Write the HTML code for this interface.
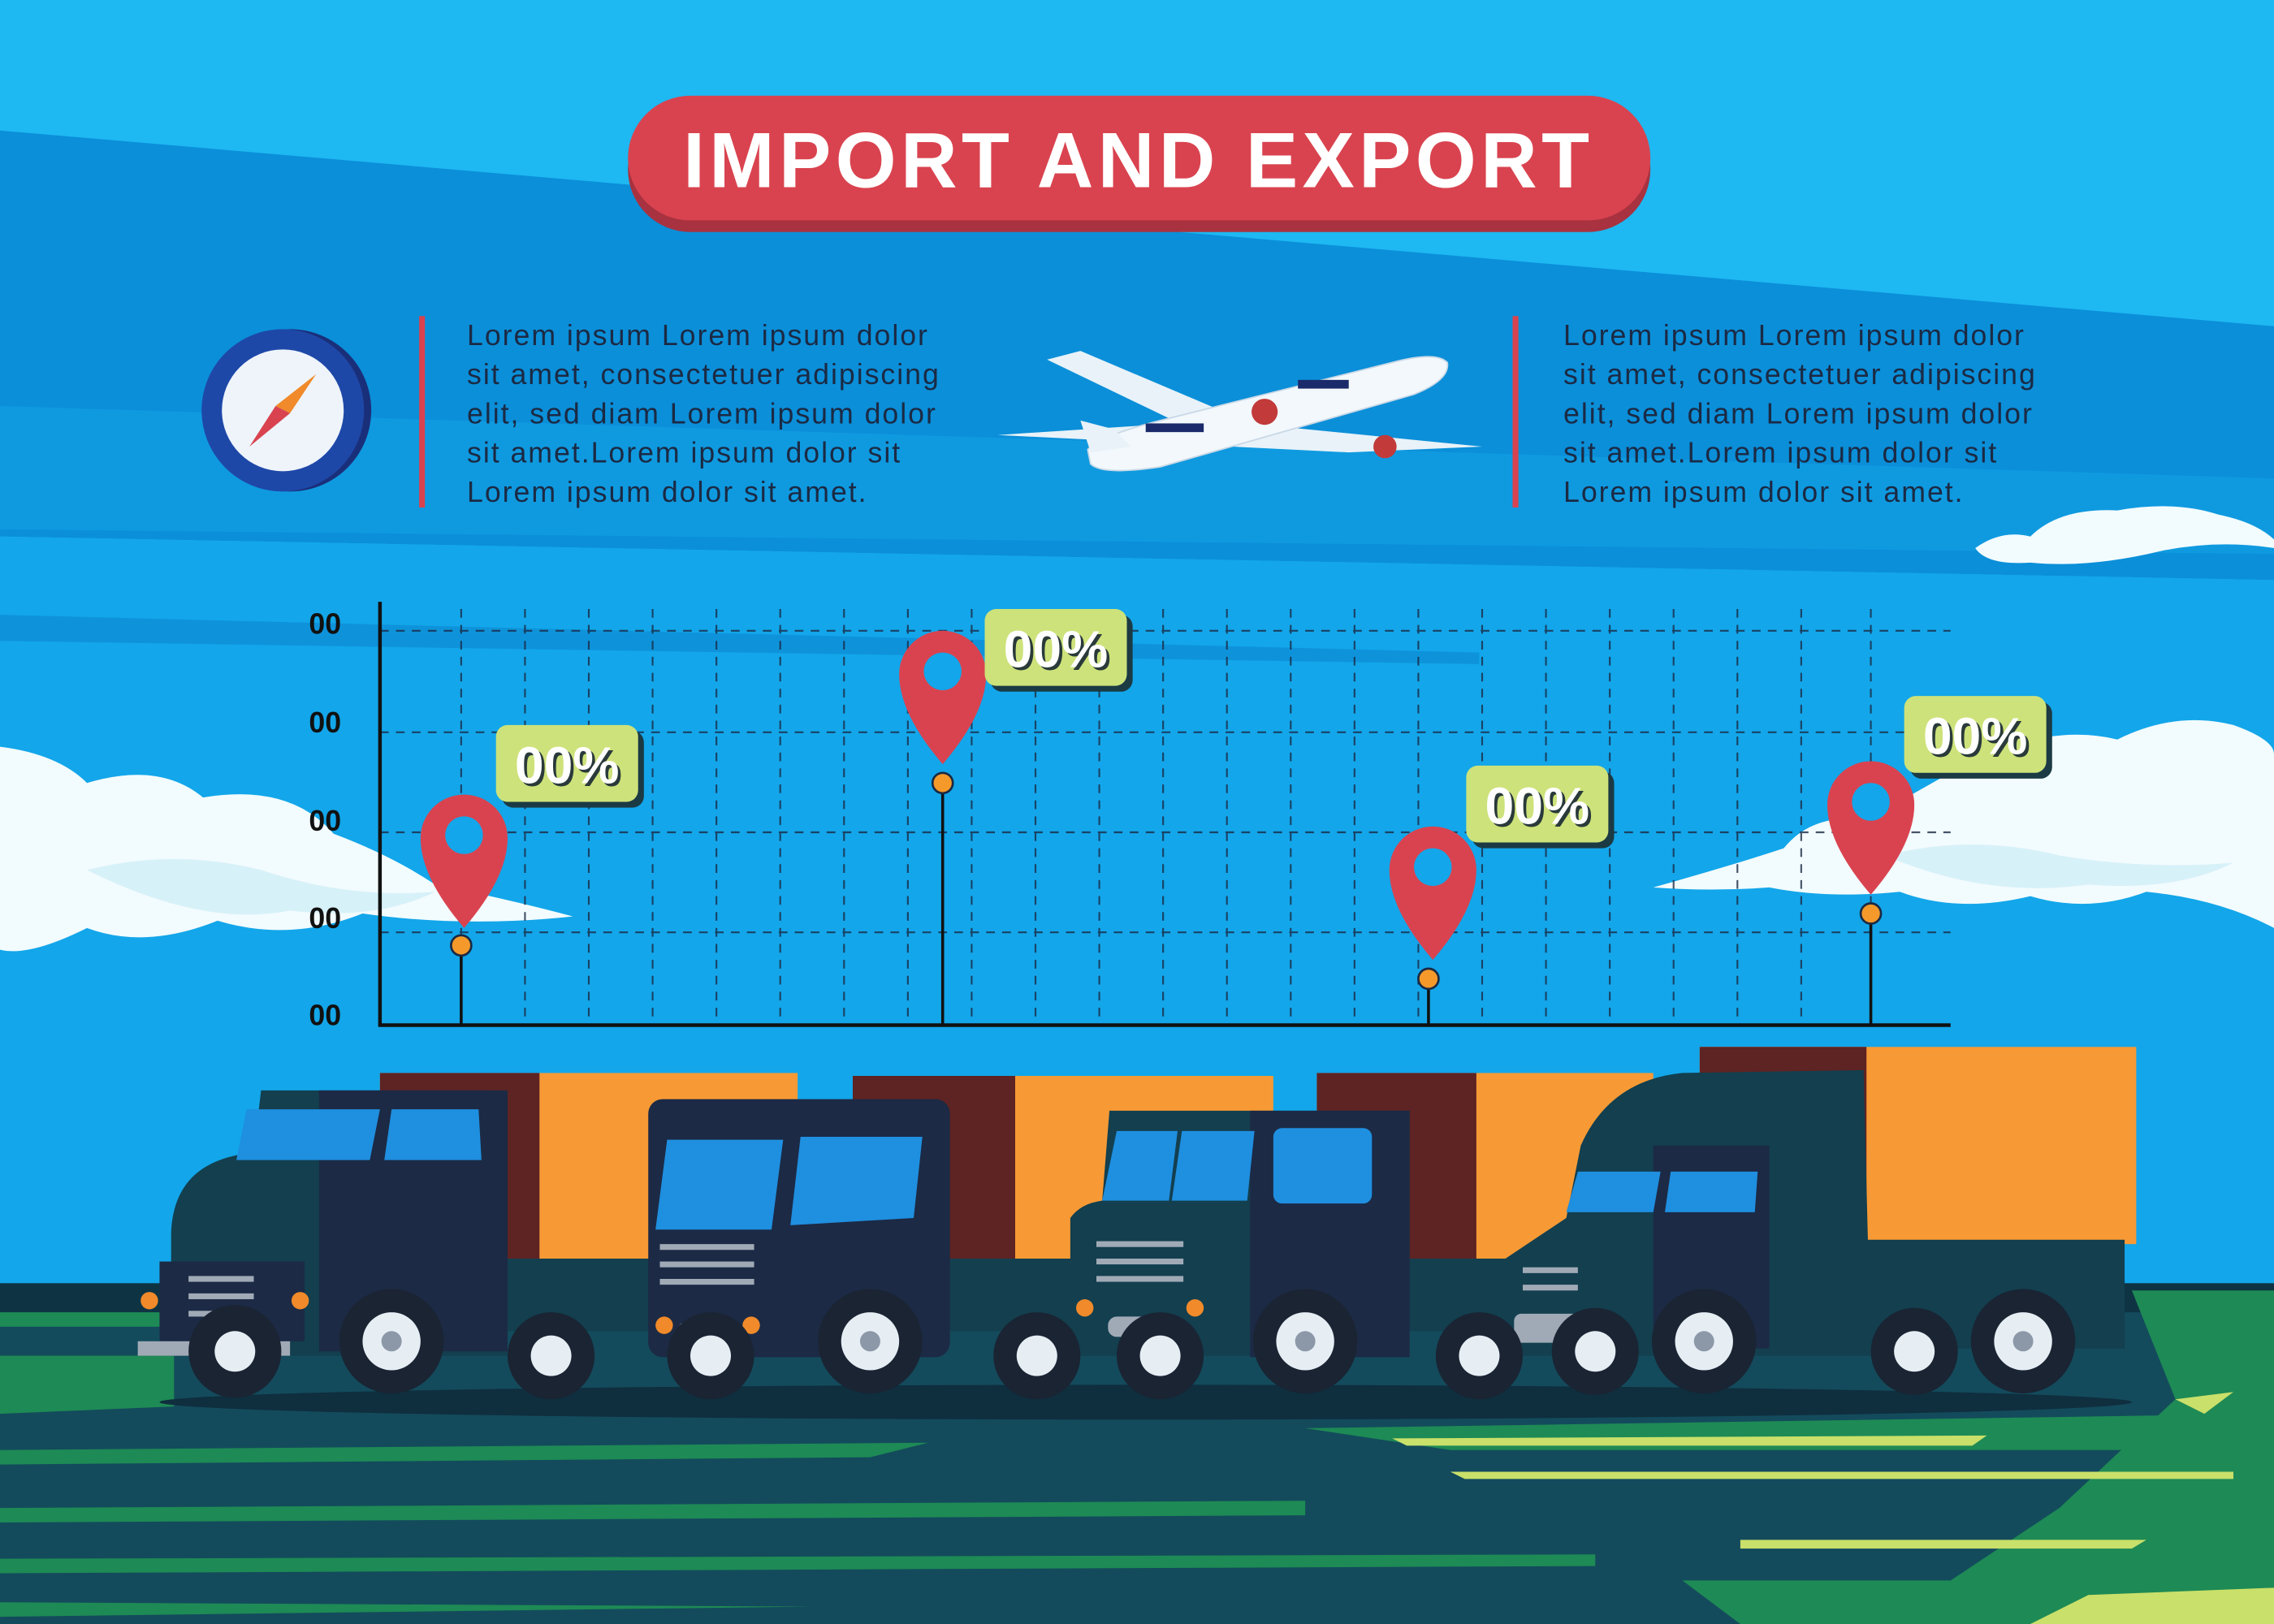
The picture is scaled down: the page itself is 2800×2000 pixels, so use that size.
<!DOCTYPE html>
<html><head><meta charset="utf-8"><style>
html,body{margin:0;padding:0;width:2800px;height:2000px;overflow:hidden;background:#1EB8F2}
svg{display:block}
</style></head><body>
<svg width="2800" height="2000" viewBox="0 0 1568 1120" preserveAspectRatio="none" xmlns="http://www.w3.org/2000/svg">
<rect width="1568" height="1120" fill="#1EB8F2"/>
<polygon points="0,90 1568,225 1568,400 0,370" fill="#0B8FD9"/>
<polygon points="0,370 1568,400 1568,900 0,900" fill="#13A6EA"/>
<polygon points="0,280 1568,330 1568,382 0,365" fill="#0F9AE0"/>
<polygon points="0,424 1020,450 1020,458 0,442" fill="#0E93DB"/>
<g fill="#F2FBFD">
<path d="M0,515 Q40,520 60,540 Q110,525 140,550 Q200,540 230,575 Q270,590 300,610 Q350,620 395,632 Q320,640 250,630 Q200,650 150,635 Q100,655 60,640 Q20,660 0,655 Z"/>
<path d="M1140,612 Q1200,595 1230,585 Q1250,560 1290,565 Q1330,540 1370,520 Q1420,500 1460,510 Q1500,490 1540,500 Q1568,510 1568,520 L1568,640 Q1530,620 1480,615 Q1440,630 1400,618 Q1350,630 1310,615 Q1260,620 1220,612 Q1180,615 1140,612 Z"/>
<path d="M1362,378 Q1380,365 1400,370 Q1420,350 1460,352 Q1500,345 1530,355 Q1555,360 1568,372 L1568,378 Q1530,372 1490,380 Q1440,392 1400,388 Q1370,390 1362,378 Z"/>
</g>
<g fill="#CFEFF7" opacity="0.8">
<path d="M60,600 Q120,585 180,600 Q240,620 300,615 Q260,635 200,628 Q140,640 60,600 Z"/>
<path d="M1300,590 Q1360,575 1420,590 Q1480,600 1540,595 Q1500,615 1440,610 Q1370,620 1300,590 Z"/>
</g>
<rect x="433" y="74" width="705" height="86" rx="43" fill="#A8323F"/>
<rect x="433" y="66" width="705" height="86" rx="43" fill="#D9434F"/>
<text x="785" y="129" text-anchor="middle" font-family="Liberation Sans, sans-serif" font-weight="bold" font-size="54" letter-spacing="3" fill="#fff">IMPORT AND EXPORT</text>
<circle cx="200" cy="283" r="56" fill="#1A2F7A"/>
<circle cx="195" cy="283" r="56" fill="#1E48A8"/>
<circle cx="195" cy="283" r="42" fill="#EEF4FA"/>
<polygon points="218,258 200,285 190,280" fill="#F08A2A"/>
<polygon points="172,308 190,280 200,285" fill="#D9434F"/>
<rect x="289" y="218" width="4" height="132" fill="#D9434F"/>
<rect x="1043" y="218" width="4" height="132" fill="#D9434F"/>
<g font-family="Liberation Sans, sans-serif" font-size="20" letter-spacing="1.1" fill="#1B2A44">
<text x="322" y="238">Lorem ipsum Lorem ipsum dolor</text>
<text x="322" y="265">sit amet, consectetuer adipiscing</text>
<text x="322" y="292">elit, sed diam Lorem ipsum dolor</text>
<text x="322" y="319">sit amet.Lorem ipsum dolor sit</text>
<text x="322" y="346">Lorem ipsum dolor sit amet.</text>
<text x="1078" y="238">Lorem ipsum Lorem ipsum dolor</text>
<text x="1078" y="265">sit amet, consectetuer adipiscing</text>
<text x="1078" y="292">elit, sed diam Lorem ipsum dolor</text>
<text x="1078" y="319">sit amet.Lorem ipsum dolor sit</text>
<text x="1078" y="346">Lorem ipsum dolor sit amet.</text>
</g>
<g>
<polygon points="722,248 745,242 870,295 830,300" fill="#E8F2F8"/>
<polygon points="688,300 840,290 1022,308 930,312" fill="#E8F2F8"/>
<path d="M750,310 Q760,300 800,290 L960,250 Q990,242 998,250 Q1000,262 975,272 L800,322 Q760,328 752,320 Z" fill="#F2F8FC" stroke="#C9D8E6"/>
<polygon points="752,312 745,290 768,296 780,308" fill="#E8F2F8"/>
<circle cx="872" cy="284" r="9" fill="#C23A3A"/>
<circle cx="955" cy="308" r="8" fill="#C23A3A"/>
<rect x="790" y="292" width="40" height="6" fill="#1B2A6A"/>
<rect x="895" y="262" width="35" height="6" fill="#1B2A6A"/>
</g>
<g stroke="#1B2A44" stroke-width="1.2" stroke-dasharray="6,5" opacity="0.8">
<line x1="262" y1="435" x2="1345" y2="435"/>
<line x1="262" y1="505" x2="1345" y2="505"/>
<line x1="262" y1="574" x2="1345" y2="574"/>
<line x1="262" y1="643" x2="1345" y2="643"/>
<line x1="318" y1="420" x2="318" y2="707"/><line x1="362" y1="420" x2="362" y2="707"/>
<line x1="406" y1="420" x2="406" y2="707"/><line x1="450" y1="420" x2="450" y2="707"/>
<line x1="494" y1="420" x2="494" y2="707"/><line x1="538" y1="420" x2="538" y2="707"/>
<line x1="582" y1="420" x2="582" y2="707"/><line x1="626" y1="420" x2="626" y2="707"/>
<line x1="670" y1="420" x2="670" y2="707"/><line x1="714" y1="420" x2="714" y2="707"/>
<line x1="758" y1="420" x2="758" y2="707"/><line x1="802" y1="420" x2="802" y2="707"/>
<line x1="846" y1="420" x2="846" y2="707"/><line x1="890" y1="420" x2="890" y2="707"/>
<line x1="934" y1="420" x2="934" y2="707"/><line x1="978" y1="420" x2="978" y2="707"/>
<line x1="1022" y1="420" x2="1022" y2="707"/><line x1="1066" y1="420" x2="1066" y2="707"/>
<line x1="1110" y1="420" x2="1110" y2="707"/><line x1="1154" y1="420" x2="1154" y2="707"/>
<line x1="1198" y1="420" x2="1198" y2="707"/><line x1="1242" y1="420" x2="1242" y2="707"/>
<line x1="1290" y1="420" x2="1290" y2="707"/>
</g>
<line x1="262" y1="415" x2="262" y2="708" stroke="#111" stroke-width="2.5"/>
<line x1="261" y1="707" x2="1345" y2="707" stroke="#111" stroke-width="2.5"/>
<g font-family="Liberation Sans, sans-serif" font-weight="bold" font-size="20" fill="#111">
<text x="213" y="437">00</text><text x="213" y="505">00</text><text x="213" y="573">00</text><text x="213" y="640">00</text><text x="213" y="707">00</text>
</g>
<g>
<line x1="318" y1="652" x2="318" y2="707" stroke="#111" stroke-width="2"/>
<line x1="650" y1="540" x2="650" y2="707" stroke="#111" stroke-width="2"/>
<line x1="985" y1="675" x2="985" y2="707" stroke="#111" stroke-width="2"/>
<line x1="1290" y1="630" x2="1290" y2="707" stroke="#111" stroke-width="2"/>
<g fill="#F59A2A" stroke="#1B2A44" stroke-width="1.5">
<circle cx="318" cy="652" r="7"/><circle cx="650" cy="540" r="7"/><circle cx="985" cy="675" r="7"/><circle cx="1290" cy="630" r="7"/>
</g>
<g fill="#D9434F">
<path d="M320,640 Q290,605 290,578 A30,30 0 0 1 350,578 Q350,605 320,640 Z"/>
<path d="M650,527 Q620,492 620,465 A30,30 0 0 1 680,465 Q680,492 650,527 Z"/>
<path d="M988,662 Q958,627 958,600 A30,30 0 0 1 1018,600 Q1018,627 988,662 Z"/>
<path d="M1290,617 Q1260,582 1260,555 A30,30 0 0 1 1320,555 Q1320,582 1290,617 Z"/>
</g>
<g fill="#13A6EA"><circle cx="320" cy="576" r="13"/><circle cx="650" cy="463" r="13"/><circle cx="988" cy="598" r="13"/><circle cx="1290" cy="553" r="13"/></g>
<g fill="#1B3A44">
<rect x="346" y="504" width="98" height="53" rx="8"/><rect x="683" y="424" width="98" height="53" rx="8"/>
<rect x="1015" y="532" width="98" height="53" rx="8"/><rect x="1317" y="484" width="98" height="53" rx="8"/>
</g>
<g fill="#CDE27A">
<rect x="342" y="500" width="98" height="53" rx="8"/><rect x="679" y="420" width="98" height="53" rx="8"/>
<rect x="1011" y="528" width="98" height="53" rx="8"/><rect x="1313" y="480" width="98" height="53" rx="8"/>
</g>
<g font-family="Liberation Sans, sans-serif" font-weight="bold" font-size="36" text-anchor="middle" fill="#2A3A3A">
<text x="393" y="542">00%</text><text x="730" y="462">00%</text><text x="1062" y="570">00%</text><text x="1364" y="522">00%</text>
</g>
<g font-family="Liberation Sans, sans-serif" font-weight="bold" font-size="36" text-anchor="middle" fill="#fff">
<text x="391" y="540">00%</text><text x="728" y="460">00%</text><text x="1060" y="568">00%</text><text x="1362" y="520">00%</text>
</g>
</g>
<rect x="0" y="885" width="1568" height="235" fill="#134B5C"/>
<polygon points="0,885 1568,885 1568,905 0,905" fill="#0E3444"/>
<polygon points="0,905 300,905 300,915 0,915" fill="#1E8A55"/>
<polygon points="0,935 120,935 120,970 0,975" fill="#1E8A55"/>
<polygon points="1470,890 1568,890 1568,1120 1300,1120 1420,1040 1500,965" fill="#1E8A55"/>
<polygon points="900,985 1568,975 1568,1000 1000,1000" fill="#1E8A55"/>
<polygon points="960,992 1370,990 1360,997 970,997" fill="#C9E06A"/>
<polygon points="1000,1015 1540,1015 1540,1020 1010,1020" fill="#C9E06A"/>
<polygon points="1200,1062 1480,1062 1470,1068 1200,1068" fill="#C9E06A"/>
<polygon points="1160,1090 1568,1090 1568,1120 1200,1120" fill="#1E8A55"/>
<polygon points="1440,1100 1568,1095 1568,1120 1400,1120" fill="#C9E06A"/>
<polygon points="1500,965 1540,960 1520,975" fill="#C9E06A"/>
<polygon points="0,1000 640,995 600,1005 0,1010" fill="#1E8A55"/>
<polygon points="0,1040 900,1035 900,1045 0,1050" fill="#1E8A55"/>
<polygon points="0,1075 1100,1072 1100,1080 0,1085" fill="#1E8A55"/>
<polygon points="0,1105 560,1108 0,1115" fill="#1E8A55"/>
<ellipse cx="790" cy="967" rx="680" ry="12" fill="#0F2E3E"/>
<g>
<rect x="262" y="740" width="288" height="130" fill="#F79A35"/>
<rect x="262" y="740" width="110" height="130" fill="#5E2323"/>
<rect x="250" y="868" width="320" height="50" fill="#133F4F"/>
<path d="M118,935 L118,850 Q120,800 175,795 L180,752 L340,752 L350,935 Z" fill="#133F4F"/>
<rect x="220" y="752" width="130" height="180" fill="#1C2A45"/>
<polygon points="170,765 262,765 255,800 163,800" fill="#1F8FE0"/>
<polygon points="270,765 330,765 332,800 265,800" fill="#1F8FE0"/>
<rect x="110" y="870" width="100" height="55" fill="#1C2A45"/>
<rect x="95" y="925" width="105" height="10" fill="#A0AAB6"/>
<rect x="130" y="880" width="45" height="4" fill="#A0AAB6"/><rect x="130" y="892" width="45" height="4" fill="#A0AAB6"/><rect x="130" y="904" width="45" height="4" fill="#A0AAB6"/>
<circle cx="103" cy="897" r="6" fill="#F08A2A"/><circle cx="207" cy="897" r="6" fill="#F08A2A"/>
<rect x="588" y="742" width="290" height="128" fill="#F79A35"/>
<rect x="588" y="742" width="112" height="128" fill="#5E2323"/>
<rect x="640" y="868" width="120" height="50" fill="#133F4F"/>
<rect x="447" y="758" width="208" height="178" rx="10" fill="#1C2A45"/>
<polygon points="460,786 540,786 532,848 452,848" fill="#1F8FE0"/>
<polygon points="552,784 636,784 630,840 545,845" fill="#1F8FE0"/>
<rect x="455" y="858" width="65" height="4" fill="#A0AAB6"/><rect x="455" y="870" width="65" height="4" fill="#A0AAB6"/><rect x="455" y="882" width="65" height="4" fill="#A0AAB6"/>
<rect x="468" y="912" width="34" height="10" rx="4" fill="#A0AAB6"/>
<circle cx="458" cy="914" r="6" fill="#F08A2A"/><circle cx="518" cy="914" r="6" fill="#F08A2A"/>
<rect x="908" y="740" width="232" height="130" fill="#F79A35"/>
<rect x="908" y="740" width="110" height="130" fill="#5E2323"/>
<rect x="960" y="868" width="100" height="50" fill="#133F4F"/>
<path d="M738,935 L738,840 Q745,830 760,828 L765,766 L972,766 L972,935 Z" fill="#133F4F"/>
<rect x="862" y="766" width="110" height="170" fill="#1C2A45"/>
<polygon points="770,780 812,780 806,828 760,828" fill="#1F8FE0"/>
<polygon points="815,780 865,780 860,828 808,828" fill="#1F8FE0"/>
<rect x="878" y="778" width="68" height="52" rx="6" fill="#1F8FE0"/>
<rect x="756" y="856" width="60" height="4" fill="#A0AAB6"/><rect x="756" y="868" width="60" height="4" fill="#A0AAB6"/><rect x="756" y="880" width="60" height="4" fill="#A0AAB6"/>
<rect x="764" y="908" width="42" height="14" rx="6" fill="#A0AAB6"/>
<circle cx="748" cy="902" r="6" fill="#F08A2A"/><circle cx="824" cy="902" r="6" fill="#F08A2A"/>
<rect x="1172" y="722" width="301" height="136" fill="#F79A35"/>
<rect x="1172" y="722" width="115" height="136" fill="#5E2323"/>
<rect x="1250" y="855" width="215" height="75" fill="#133F4F"/>
<path d="M1030,935 L1035,870 L1080,840 L1090,790 Q1110,745 1160,740 L1285,738 L1290,935 Z" fill="#133F4F"/>
<rect x="1140" y="790" width="80" height="140" fill="#1C2A45"/>
<polygon points="1088,808 1145,808 1140,836 1080,836" fill="#1F8FE0"/>
<polygon points="1152,808 1212,808 1210,836 1148,836" fill="#1F8FE0"/>
<rect x="1050" y="874" width="38" height="4" fill="#A0AAB6"/><rect x="1050" y="886" width="38" height="4" fill="#A0AAB6"/>
<rect x="1044" y="906" width="48" height="20" rx="5" fill="#A0AAB6"/>
</g>
<g>
<g fill="#1A2433">
<circle cx="162" cy="932" r="32"/><circle cx="270" cy="925" r="36"/><circle cx="380" cy="935" r="30"/>
<circle cx="490" cy="935" r="30"/><circle cx="600" cy="925" r="36"/><circle cx="715" cy="935" r="30"/>
<circle cx="800" cy="935" r="30"/><circle cx="900" cy="925" r="36"/><circle cx="1020" cy="935" r="30"/>
<circle cx="1100" cy="932" r="30"/><circle cx="1175" cy="925" r="36"/><circle cx="1320" cy="932" r="30"/><circle cx="1395" cy="925" r="36"/>
</g>
<g fill="#E6EEF4">
<circle cx="162" cy="932" r="14"/><circle cx="270" cy="925" r="20"/><circle cx="380" cy="935" r="14"/>
<circle cx="490" cy="935" r="14"/><circle cx="600" cy="925" r="20"/><circle cx="715" cy="935" r="14"/>
<circle cx="800" cy="935" r="14"/><circle cx="900" cy="925" r="20"/><circle cx="1020" cy="935" r="14"/>
<circle cx="1100" cy="932" r="14"/><circle cx="1175" cy="925" r="20"/><circle cx="1320" cy="932" r="14"/><circle cx="1395" cy="925" r="20"/>
</g>
<g fill="#8C98A8">
<circle cx="270" cy="925" r="7"/><circle cx="600" cy="925" r="7"/><circle cx="900" cy="925" r="7"/><circle cx="1175" cy="925" r="7"/><circle cx="1395" cy="925" r="7"/>
</g>
</g>
</svg>
</body></html>
